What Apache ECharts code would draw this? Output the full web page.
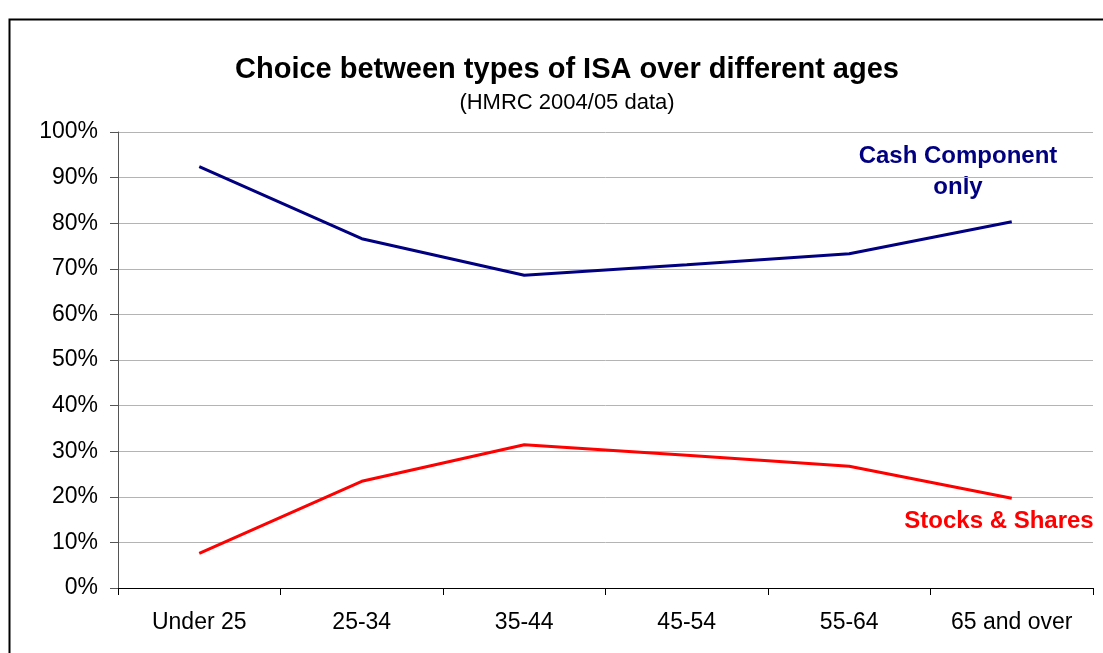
<!DOCTYPE html>
<html>
<head>
<meta charset="utf-8">
<script src="https://cdn.jsdelivr.net/npm/echarts@6/dist/echarts.min.js"></script>
<style>
html,body{margin:0;padding:0;background:#fff;}
#main{width:1103px;height:653px;}
</style>
</head>
<body>
<div id="main"></div>
<script>
const categories = ['Under 25', '25-34', '35-44', '45-54', '55-64', '65 and over'];
const cashOnly = [92.4, 76.6, 68.6, 70.9, 73.3, 80.3];
const stocksShares = [7.6, 23.4, 31.4, 29.1, 26.7, 19.7];
const yTicks = [0, 10, 20, 30, 40, 50, 60, 70, 80, 90, 100];

const FONT = '"Liberation Sans", Arial, sans-serif';
const chart = echarts.init(document.getElementById('main'), null, {renderer: 'canvas'});
chart.setOption({
  backgroundColor: '#ffffff',
  animation: false,
  title: {
    text: 'Choice between types of ISA over different ages',
    subtext: '(HMRC 2004/05 data)',
    left: 562, top: 50, textAlign: 'center',
    itemGap: 8,
    textStyle: {fontFamily: FONT, fontWeight: 'bold', fontSize: 29, color: '#000'},
    subtextStyle: {fontFamily: FONT, fontSize: 22, color: '#000'}
  },
  grid: {left: 118, top: 132, right: 10, bottom: 65, containLabel: false},
  xAxis: {
    type: 'category',
    data: categories,
    boundaryGap: true,
    axisLine: {lineStyle: {color: '#000', width: 1}},
    axisTick: {show: true, alignWithLabel: false, length: 7, lineStyle: {color: '#000'}},
    axisLabel: {fontFamily: FONT, fontSize: 23, color: '#000', margin: 23},
    splitLine: {show: false}
  },
  yAxis: {
    type: 'value',
    min: yTicks[0], max: yTicks[yTicks.length - 1], interval: 10,
    axisLine: {show: true, lineStyle: {color: '#555', width: 1}},
    axisTick: {show: true, length: 8, lineStyle: {color: '#555'}},
    axisLabel: {fontFamily: FONT, fontSize: 23, color: '#000', margin: 20, formatter: v => v + '%'},
    splitLine: {show: true, lineStyle: {color: '#b4b4b4', width: 1}}
  },
  series: [
    {name: 'Cash Component only', type: 'line', data: cashOnly, showSymbol: false, symbol: 'none',
     lineStyle: {color: '#000080', width: 3}, itemStyle: {color: '#000080'}},
    {name: 'Stocks & Shares', type: 'line', data: stocksShares, showSymbol: false, symbol: 'none',
     lineStyle: {color: '#ff0000', width: 3}, itemStyle: {color: '#ff0000'}}
  ],
  graphic: [
    {type: 'rect', left: 7, top: 17, shape: {width: 1200, height: 700}, silent: true, z: -1,
     style: {fill: 'none', stroke: '#000', lineWidth: 2}},
    {type: 'text', x: 958, y: 172, silent: true,
     style: {text: 'Cash Component\nonly', fill: '#000080', font: 'bold 24px ' + FONT,
             align: 'center', verticalAlign: 'middle', lineHeight: 31}},
    {type: 'text', x: 999, y: 521, silent: true,
     style: {text: 'Stocks & Shares', fill: '#ff0000', font: 'bold 24px ' + FONT,
             align: 'center', verticalAlign: 'middle'}}
  ]
});
</script>
</body>
</html>
